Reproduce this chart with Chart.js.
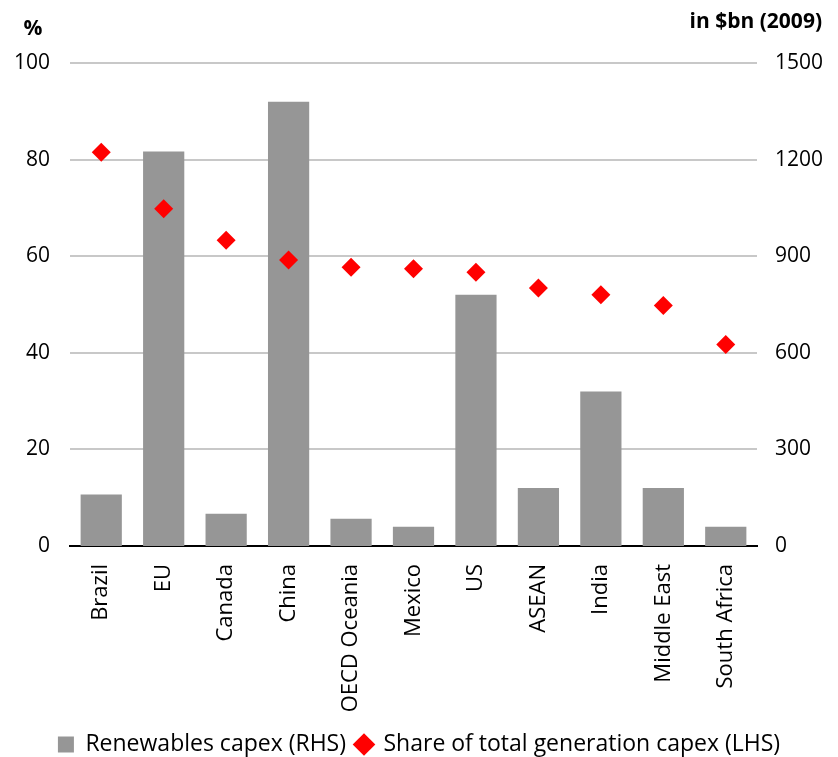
<!DOCTYPE html>
<html>
<head>
<meta charset="utf-8">
<script src="https://cdn.jsdelivr.net/npm/chart.js@4.4.1/dist/chart.umd.min.js"></script>
<style>
  html, body { margin: 0; padding: 0; background: #ffffff; }
  #wrap { width: 838px; height: 757px; position: relative; }
</style>
</head>
<body>
<div id="wrap"><canvas id="chart" width="838" height="757"></canvas></div>
<script>
// Regions on the category axis
const regions = ['Brazil', 'EU', 'Canada', 'China', 'OECD Oceania', 'Mexico', 'US', 'ASEAN', 'India', 'Middle East', 'South Africa'];
// Renewables capex, $bn (2009) — right-hand axis
const renewablesCapex = [160, 1225, 100, 1380, 85, 60, 780, 180, 480, 180, 60];
// Share of total generation capex, % — left-hand axis
const shareOfCapex = [81.5, 69.8, 63.3, 59.2, 57.7, 57.4, 56.7, 53.4, 52.0, 49.8, 41.7];
// Tick values for both axes
const leftTicks = [0, 20, 40, 60, 80, 100];
const rightTicks = [0, 300, 600, 900, 1200, 1500];

const FONT = "'Open Sans', 'Noto Sans', sans-serif";

// Unit captions above each value axis
const unitCaptions = {
  id: 'unitCaptions',
  afterDraw(chart) {
    const { ctx } = chart;
    ctx.save();
    ctx.fillStyle = '#000';
    ctx.font = "bold 21px " + FONT;
    ctx.textBaseline = 'alphabetic';
    ctx.textAlign = 'center';
    ctx.fillText('%', 33, 35);
    ctx.textAlign = 'right';
    ctx.fillText('in $bn (2009)', 822, 28);
    ctx.restore();
  }
};

new Chart(document.getElementById('chart'), {
  data: {
    labels: regions,
    datasets: [
      {
        type: 'scatter',
        label: 'Share of total generation capex (LHS)',
        data: shareOfCapex,
        yAxisID: 'yLeft',
        pointStyle: 'rectRot',
        pointRadius: 9.5,
        pointHoverRadius: 9.5,
        backgroundColor: '#ff0000',
        borderColor: '#ff0000',
        borderWidth: 0,
        showLine: false,
        order: 0
      },
      {
        type: 'bar',
        label: 'Renewables capex (RHS)',
        data: renewablesCapex,
        yAxisID: 'yRight',
        backgroundColor: '#969696',
        borderWidth: 0,
        categoryPercentage: 1.0,
        barPercentage: 0.66,
        pointStyle: 'rect',
        order: 1
      }
    ]
  },
  options: {
    responsive: false,
    animation: false,
    layout: { padding: { top: 63, left: 0, right: 0, bottom: -9 } },
    plugins: {
      tooltip: { enabled: false },
      legend: {
        position: 'bottom',
        reverse: true,
        labels: {
          usePointStyle: true,
          color: '#000',
          font: { family: FONT, size: 23 },
          boxWidth: 16,
          boxHeight: 16,
          padding: 10
        }
      }
    },
    scales: {
      x: {
        type: 'category',
        offset: true,
        afterFit(scale) { scale.height = 177; },
        grid: { display: false, drawTicks: false },
        border: { display: true, color: '#000', width: 2 },
        ticks: {
          color: '#000',
          font: { family: FONT, size: 22 },
          maxRotation: 90,
          minRotation: 90,
          padding: 18,
          autoSkip: false
        }
      },
      yLeft: {
        type: 'linear',
        position: 'left',
        min: 0,
        max: 100,
        afterBuildTicks(scale) { scale.ticks = leftTicks.map(v => ({ value: v })); },
        afterFit(scale) { scale.width = 70; },
        grid: { color: '#c8c8c8', lineWidth: 2, drawTicks: false },
        border: { display: false },
        ticks: {
          color: '#000',
          font: { family: FONT, size: 21 },
          padding: 20
        }
      },
      yRight: {
        type: 'linear',
        position: 'right',
        min: 0,
        max: 1500,
        afterBuildTicks(scale) { scale.ticks = rightTicks.map(v => ({ value: v })); },
        afterFit(scale) { scale.width = 81; },
        grid: { display: false, drawTicks: false },
        border: { display: false },
        ticks: {
          color: '#000',
          font: { family: FONT, size: 21 },
          padding: 18,
          callback: (v) => String(v)
        }
      }
    }
  },
  plugins: [unitCaptions]
});
</script>
</body>
</html>
